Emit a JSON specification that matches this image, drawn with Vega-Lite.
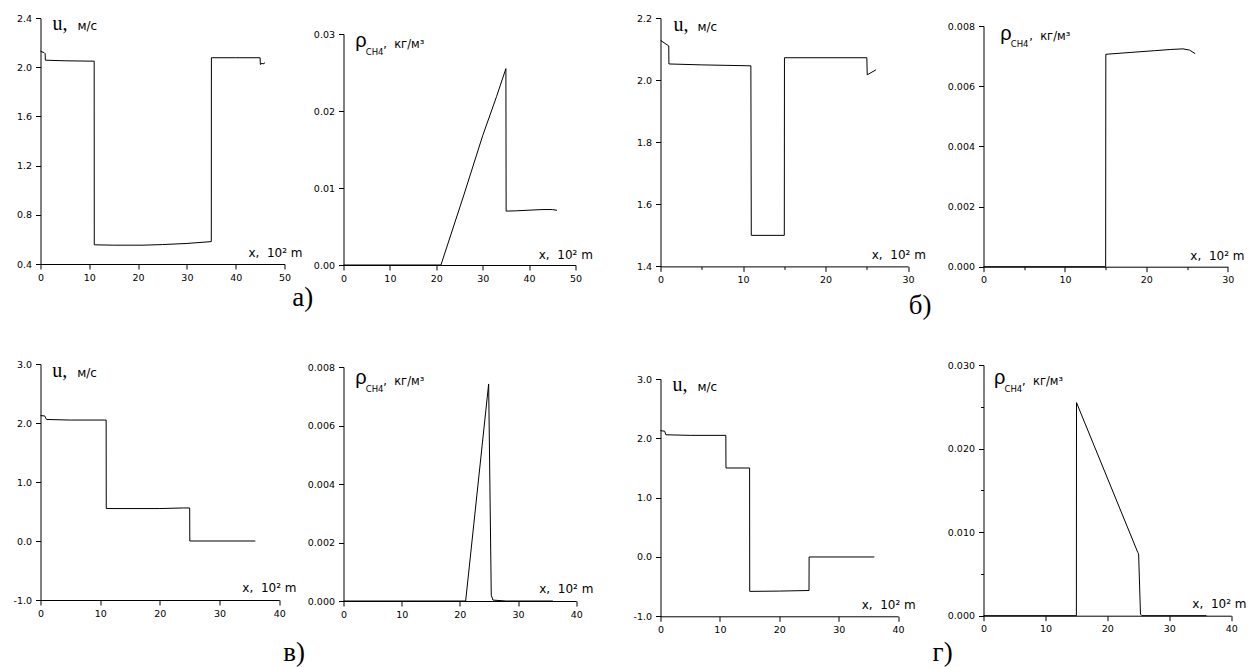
{
  "$schema": "https://vega.github.io/schema/vega-lite/v6.json",
  "background": "white",
  "padding": {"left": 12.5, "top": 10, "right": 0, "bottom": 0},
  "spacing": -20,
  "config": {
    "view": {"stroke": null},
    "axis": {"domainColor": "black", "tickColor": "black", "labelColor": "black", "labelFont": "DejaVu Sans", "labelFontSize": 9.5, "grid": false, "domainWidth": 1, "tickWidth": 1, "labelFlush": false, "labelOverlap": false},
    "axisX": {"labelPadding": 3},
    "axisY": {"labelPadding": 4},
    "text": {"color": "black", "font": "DejaVu Sans"}
  },
  "hconcat": [
    {
      "bounds": "flush", "spacing": 0,
      "vconcat": [
        {"width": 285.1, "height": 8, "data": {"values": []}, "mark": {"type": "point", "opacity": 0}, "encoding": {}},
        {
          "width": 244, "height": 246,
          "layer": [
            {
              "data": {"values": [
                {"x": 0, "y": 2.13}, {"x": 0.75, "y": 2.118}, {"x": 0.95, "y": 2.11}, {"x": 1.0, "y": 2.057},
                {"x": 5, "y": 2.052}, {"x": 11, "y": 2.049}, {"x": 11.02, "y": 0.556}, {"x": 15, "y": 0.553},
                {"x": 21, "y": 0.553}, {"x": 25, "y": 0.558}, {"x": 30, "y": 0.567}, {"x": 35, "y": 0.582},
                {"x": 35.02, "y": 2.077}, {"x": 40, "y": 2.077}, {"x": 45, "y": 2.077}, {"x": 45.05, "y": 2.022},
                {"x": 45.4, "y": 2.032}, {"x": 45.6, "y": 2.026}, {"x": 46, "y": 2.036}
              ]},
              "mark": {"type": "line", "color": "black", "strokeWidth": 1},
              "encoding": {
                "x": {"field": "x", "type": "quantitative", "scale": {"domain": [0, 50], "nice": false, "zero": false},
                  "axis": {"title": null, "values": [0, 5, 10, 15, 20, 25, 30, 35, 40, 45, 50],
                    "labelExpr": "datum.value % 10 === 0 ? format(datum.value, 'd') : ''",
                    "tickSize": {"condition": {"test": "datum.value % 10 === 0", "value": 5}, "value": 3}}},
                "y": {"field": "y", "type": "quantitative", "scale": {"domain": [0.4, 2.4], "nice": false, "zero": false},
                  "axis": {"title": null, "values": [0.4, 0.6, 0.8, 1.0, 1.2, 1.4, 1.6, 1.8, 2.0, 2.2, 2.4],
                    "labelExpr": "abs(datum.value/0.4 - round(datum.value/0.4)) < 1e-6 ? format(datum.value, '.1f') : ''",
                    "tickSize": {"condition": {"test": "abs(datum.value/0.4 - round(datum.value/0.4)) < 1e-6", "value": 5}, "value": 3}}},
                "order": {"value": null}
              }
            },
            {"data": {"values": [{"t": "u,"}]}, "mark": {"type": "text", "font": "Liberation Serif", "fontSize": 20, "align": "left", "baseline": "alphabetic"},
              "encoding": {"x": {"datum": 2.46, "type": "quantitative"}, "y": {"datum": 2.302, "type": "quantitative"}, "text": {"field": "t"}}},
            {"data": {"values": [{"t": "м/с"}]}, "mark": {"type": "text", "fontSize": 12, "align": "left", "baseline": "alphabetic", "dx": 25},
              "encoding": {"x": {"datum": 2.46, "type": "quantitative"}, "y": {"datum": 2.302, "type": "quantitative"}, "text": {"field": "t"}}},
            {"data": {"values": [{"t": "x,\u00a0\u00a010² m"}]}, "mark": {"type": "text", "fontSize": 12, "align": "right", "baseline": "alphabetic"},
              "encoding": {"x": {"datum": 53.7, "type": "quantitative"}, "y": {"datum": 0.459, "type": "quantitative"}, "text": {"field": "t"}}},
            {"data": {"values": [{"t": "а)"}]}, "mark": {"type": "text", "font": "Liberation Serif", "fontSize": 27, "align": "left", "baseline": "alphabetic"},
              "encoding": {"x": {"datum": 51.58, "type": "quantitative"}, "y": {"datum": 0.0585, "type": "quantitative"}, "text": {"field": "t"}}}
          ]
        },
        {"width": 1, "height": 99.3, "data": {"values": []}, "mark": {"type": "point", "opacity": 0}, "encoding": {}},
        {
          "width": 238.7, "height": 236,
          "layer": [
            {
              "data": {"values": [
                {"x": 0, "y": 2.125}, {"x": 0.7, "y": 2.12}, {"x": 0.8, "y": 2.1}, {"x": 1.0, "y": 2.06},
                {"x": 5, "y": 2.05}, {"x": 11, "y": 2.05}, {"x": 11.02, "y": 0.55}, {"x": 20, "y": 0.55},
                {"x": 24, "y": 0.56}, {"x": 25, "y": 0.56}, {"x": 25.02, "y": 0}, {"x": 36, "y": 0}
              ]},
              "mark": {"type": "line", "color": "black", "strokeWidth": 1},
              "encoding": {
                "x": {"field": "x", "type": "quantitative", "scale": {"domain": [0, 40], "nice": false, "zero": false},
                  "axis": {"title": null, "values": [0, 5, 10, 15, 20, 25, 30, 35, 40],
                    "labelExpr": "datum.value % 10 === 0 ? format(datum.value, 'd') : ''",
                    "tickSize": {"condition": {"test": "datum.value % 10 === 0", "value": 5}, "value": 3}}},
                "y": {"field": "y", "type": "quantitative", "scale": {"domain": [-1, 3], "nice": false, "zero": false},
                  "axis": {"title": null, "values": [-1, -0.5, 0, 0.5, 1, 1.5, 2, 2.5, 3],
                    "labelExpr": "abs(datum.value - round(datum.value)) < 1e-6 ? replace(format(datum.value, '.1f'), '−', '-') : ''",
                    "tickSize": {"condition": {"test": "abs(datum.value - round(datum.value)) < 1e-6", "value": 5}, "value": 3}}},
                "order": {"value": null}
              }
            },
            {"data": {"values": [{"t": "u,"}]}, "mark": {"type": "text", "font": "Liberation Serif", "fontSize": 20, "align": "left", "baseline": "alphabetic"},
              "encoding": {"x": {"datum": 1.96, "type": "quantitative"}, "y": {"datum": 2.773, "type": "quantitative"}, "text": {"field": "t"}}},
            {"data": {"values": [{"t": "м/с"}]}, "mark": {"type": "text", "fontSize": 12, "align": "left", "baseline": "alphabetic", "dx": 25},
              "encoding": {"x": {"datum": 1.96, "type": "quantitative"}, "y": {"datum": 2.773, "type": "quantitative"}, "text": {"field": "t"}}},
            {"data": {"values": [{"t": "x,\u00a0\u00a010² m"}]}, "mark": {"type": "text", "fontSize": 12, "align": "right", "baseline": "alphabetic"},
              "encoding": {"x": {"datum": 42.9, "type": "quantitative"}, "y": {"datum": -0.871, "type": "quantitative"}, "text": {"field": "t"}}},
            {"data": {"values": [{"t": "в)"}]}, "mark": {"type": "text", "font": "Liberation Serif", "fontSize": 27, "align": "left", "baseline": "alphabetic"},
              "encoding": {"x": {"datum": 40.67, "type": "quantitative"}, "y": {"datum": -2.029, "type": "quantitative"}, "text": {"field": "t"}}}
          ]
        }
      ]
    },
    {
      "bounds": "flush", "spacing": 0,
      "vconcat": [
        {"width": 308.9, "height": 23.3, "data": {"values": []}, "mark": {"type": "point", "opacity": 0}, "encoding": {}},
        {
          "width": 232, "height": 231,
          "layer": [
            {
              "data": {"values": [
                {"x": 0, "y": 0}, {"x": 21, "y": 0}, {"x": 26, "y": 0.0092}, {"x": 30, "y": 0.0168},
                {"x": 33, "y": 0.0219}, {"x": 35, "y": 0.0255}, {"x": 35.05, "y": 0.0070},
                {"x": 37, "y": 0.00703}, {"x": 40, "y": 0.00712}, {"x": 43, "y": 0.0072}, {"x": 45, "y": 0.0072}, {"x": 46, "y": 0.0071}
              ]},
              "mark": {"type": "line", "color": "black", "strokeWidth": 1},
              "encoding": {
                "x": {"field": "x", "type": "quantitative", "scale": {"domain": [0, 50], "nice": false, "zero": false},
                  "axis": {"title": null, "values": [0, 5, 10, 15, 20, 25, 30, 35, 40, 45, 50],
                    "labelExpr": "datum.value % 10 === 0 ? format(datum.value, 'd') : ''",
                    "tickSize": {"condition": {"test": "datum.value % 10 === 0", "value": 5}, "value": 3}}},
                "y": {"field": "y", "type": "quantitative", "scale": {"domain": [0, 0.03], "nice": false, "zero": false},
                  "axis": {"title": null, "values": [0, 0.005, 0.01, 0.015, 0.02, 0.025, 0.03],
                    "labelExpr": "abs(datum.value/0.01 - round(datum.value/0.01)) < 1e-6 ? format(datum.value, '.2f') : ''",
                    "tickSize": {"condition": {"test": "abs(datum.value/0.01 - round(datum.value/0.01)) < 1e-6", "value": 5}, "value": 3}}},
                "order": {"value": null}
              }
            },
            {"data": {"values": [{"t": "ρ"}]}, "mark": {"type": "text", "font": "Liberation Sans", "fontSize": 20, "align": "left", "baseline": "alphabetic"},
              "encoding": {"x": {"datum": 2.52, "type": "quantitative"}, "y": {"datum": 0.02826, "type": "quantitative"}, "text": {"field": "t"}}},
            {"data": {"values": [{"t": "CH4"}]}, "mark": {"type": "text", "fontSize": 8.5, "align": "left", "baseline": "alphabetic", "dx": 10.5, "dy": 8},
              "encoding": {"x": {"datum": 2.52, "type": "quantitative"}, "y": {"datum": 0.02826, "type": "quantitative"}, "text": {"field": "t"}}},
            {"data": {"values": [{"t": ",\u00a0\u00a0кг/м³"}]}, "mark": {"type": "text", "fontSize": 11.5, "align": "left", "baseline": "alphabetic", "dx": 28, "dy": 1},
              "encoding": {"x": {"datum": 2.52, "type": "quantitative"}, "y": {"datum": 0.02826, "type": "quantitative"}, "text": {"field": "t"}}},
            {"data": {"values": [{"t": "x,\u00a0\u00a010² m"}]}, "mark": {"type": "text", "fontSize": 12, "align": "right", "baseline": "alphabetic"},
              "encoding": {"x": {"datum": 53.75, "type": "quantitative"}, "y": {"datum": 0.00074, "type": "quantitative"}, "text": {"field": "t"}}}
          ]
        },
        {"width": 1, "height": 101.7, "data": {"values": []}, "mark": {"type": "point", "opacity": 0}, "encoding": {}},
        {
          "width": 232.7, "height": 234,
          "layer": [
            {
              "data": {"values": [
                {"x": 0, "y": 0}, {"x": 21, "y": 0}, {"x": 24.95, "y": 0.00742}, {"x": 25.4, "y": 0.0002},
                {"x": 25.7, "y": 0.00003}, {"x": 28, "y": 0}, {"x": 36, "y": 0}
              ]},
              "mark": {"type": "line", "color": "black", "strokeWidth": 1},
              "encoding": {
                "x": {"field": "x", "type": "quantitative", "scale": {"domain": [0, 40], "nice": false, "zero": false},
                  "axis": {"title": null, "values": [0, 5, 10, 15, 20, 25, 30, 35, 40],
                    "labelExpr": "datum.value % 10 === 0 ? format(datum.value, 'd') : ''",
                    "tickSize": {"condition": {"test": "datum.value % 10 === 0", "value": 5}, "value": 3}}},
                "y": {"field": "y", "type": "quantitative", "scale": {"domain": [0, 0.008], "nice": false, "zero": false},
                  "axis": {"title": null, "values": [0, 0.001, 0.002, 0.003, 0.004, 0.005, 0.006, 0.007, 0.008],
                    "labelExpr": "abs(datum.value/0.002 - round(datum.value/0.002)) < 1e-6 ? format(datum.value, '.3f') : ''",
                    "tickSize": {"condition": {"test": "abs(datum.value/0.002 - round(datum.value/0.002)) < 1e-6", "value": 5}, "value": 3}}},
                "order": {"value": null}
              }
            },
            {"data": {"values": [{"t": "ρ"}]}, "mark": {"type": "text", "font": "Liberation Sans", "fontSize": 20, "align": "left", "baseline": "alphabetic"},
              "encoding": {"x": {"datum": 2.01, "type": "quantitative"}, "y": {"datum": 0.00743, "type": "quantitative"}, "text": {"field": "t"}}},
            {"data": {"values": [{"t": "CH4"}]}, "mark": {"type": "text", "fontSize": 8.5, "align": "left", "baseline": "alphabetic", "dx": 10.5, "dy": 8},
              "encoding": {"x": {"datum": 2.01, "type": "quantitative"}, "y": {"datum": 0.00743, "type": "quantitative"}, "text": {"field": "t"}}},
            {"data": {"values": [{"t": ",\u00a0\u00a0кг/м³"}]}, "mark": {"type": "text", "fontSize": 11.5, "align": "left", "baseline": "alphabetic", "dx": 28, "dy": 1},
              "encoding": {"x": {"datum": 2.01, "type": "quantitative"}, "y": {"datum": 0.00743, "type": "quantitative"}, "text": {"field": "t"}}},
            {"data": {"values": [{"t": "x,\u00a0\u00a010² m"}]}, "mark": {"type": "text", "fontSize": 12, "align": "right", "baseline": "alphabetic"},
              "encoding": {"x": {"datum": 42.95, "type": "quantitative"}, "y": {"datum": 0.000284, "type": "quantitative"}, "text": {"field": "t"}}}
          ]
        }
      ]
    },
    {
      "bounds": "flush", "spacing": 0,
      "vconcat": [
        {"width": 305.1, "height": 7.3, "data": {"values": []}, "mark": {"type": "point", "opacity": 0}, "encoding": {}},
        {
          "width": 247.6, "height": 248.4,
          "layer": [
            {
              "data": {"values": [
                {"x": 0, "y": 2.128}, {"x": 1.0, "y": 2.11}, {"x": 1.02, "y": 2.052}, {"x": 5, "y": 2.049},
                {"x": 10.95, "y": 2.046}, {"x": 11, "y": 1.5}, {"x": 15, "y": 1.5}, {"x": 15.02, "y": 2.072},
                {"x": 25, "y": 2.072}, {"x": 25.05, "y": 2.017}, {"x": 26.1, "y": 2.033}
              ]},
              "mark": {"type": "line", "color": "black", "strokeWidth": 1},
              "encoding": {
                "x": {"field": "x", "type": "quantitative", "scale": {"domain": [0, 30], "nice": false, "zero": false},
                  "axis": {"title": null, "values": [0, 5, 10, 15, 20, 25, 30],
                    "labelExpr": "datum.value % 10 === 0 ? format(datum.value, 'd') : ''",
                    "tickSize": {"condition": {"test": "datum.value % 10 === 0", "value": 5}, "value": 3}}},
                "y": {"field": "y", "type": "quantitative", "scale": {"domain": [1.4, 2.2], "nice": false, "zero": false},
                  "axis": {"title": null, "values": [1.4, 1.5, 1.6, 1.7, 1.8, 1.9, 2.0, 2.1, 2.2],
                    "labelExpr": "abs(datum.value/0.2 - round(datum.value/0.2)) < 1e-6 ? format(datum.value, '.1f') : ''",
                    "tickSize": {"condition": {"test": "abs(datum.value/0.2 - round(datum.value/0.2)) < 1e-6", "value": 5}, "value": 3}}},
                "order": {"value": null}
              }
            },
            {"data": {"values": [{"t": "u,"}]}, "mark": {"type": "text", "font": "Liberation Serif", "fontSize": 20, "align": "left", "baseline": "alphabetic"},
              "encoding": {"x": {"datum": 1.575, "type": "quantitative"}, "y": {"datum": 2.159, "type": "quantitative"}, "text": {"field": "t"}}},
            {"data": {"values": [{"t": "м/с"}]}, "mark": {"type": "text", "fontSize": 12, "align": "left", "baseline": "alphabetic", "dx": 24},
              "encoding": {"x": {"datum": 1.575, "type": "quantitative"}, "y": {"datum": 2.159, "type": "quantitative"}, "text": {"field": "t"}}},
            {"data": {"values": [{"t": "x,\u00a0\u00a010² m"}]}, "mark": {"type": "text", "fontSize": 12, "align": "right", "baseline": "alphabetic"},
              "encoding": {"x": {"datum": 32.15, "type": "quantitative"}, "y": {"datum": 1.4238, "type": "quantitative"}, "text": {"field": "t"}}},
            {"data": {"values": [{"t": "б)"}]}, "mark": {"type": "text", "font": "Liberation Serif", "fontSize": 27, "align": "left", "baseline": "alphabetic"},
              "encoding": {"x": {"datum": 30.09, "type": "quantitative"}, "y": {"datum": 1.248, "type": "quantitative"}, "text": {"field": "t"}}}
          ]
        },
        {"width": 1, "height": 112, "data": {"values": []}, "mark": {"type": "point", "opacity": 0}, "encoding": {}},
        {
          "width": 237.6, "height": 237.3,
          "layer": [
            {
              "data": {"values": [
                {"x": 0, "y": 2.13}, {"x": 0.7, "y": 2.12}, {"x": 0.9, "y": 2.06}, {"x": 5, "y": 2.05},
                {"x": 11, "y": 2.05}, {"x": 11.02, "y": 1.5}, {"x": 15, "y": 1.5}, {"x": 15.02, "y": -0.58},
                {"x": 20, "y": -0.575}, {"x": 25, "y": -0.565}, {"x": 25.02, "y": 0}, {"x": 36, "y": 0}
              ]},
              "mark": {"type": "line", "color": "black", "strokeWidth": 1},
              "encoding": {
                "x": {"field": "x", "type": "quantitative", "scale": {"domain": [0, 40], "nice": false, "zero": false},
                  "axis": {"title": null, "values": [0, 5, 10, 15, 20, 25, 30, 35, 40],
                    "labelExpr": "datum.value % 10 === 0 ? format(datum.value, 'd') : ''",
                    "tickSize": {"condition": {"test": "datum.value % 10 === 0", "value": 5}, "value": 3}}},
                "y": {"field": "y", "type": "quantitative", "scale": {"domain": [-1, 3], "nice": false, "zero": false},
                  "axis": {"title": null, "values": [-1, -0.5, 0, 0.5, 1, 1.5, 2, 2.5, 3],
                    "labelExpr": "abs(datum.value - round(datum.value)) < 1e-6 ? replace(format(datum.value, '.1f'), '−', '-') : ''",
                    "tickSize": {"condition": {"test": "abs(datum.value - round(datum.value)) < 1e-6", "value": 5}, "value": 3}}},
                "order": {"value": null}
              }
            },
            {"data": {"values": [{"t": "u,"}]}, "mark": {"type": "text", "font": "Liberation Serif", "fontSize": 20, "align": "left", "baseline": "alphabetic"},
              "encoding": {"x": {"datum": 2.02, "type": "quantitative"}, "y": {"datum": 2.793, "type": "quantitative"}, "text": {"field": "t"}}},
            {"data": {"values": [{"t": "м/с"}]}, "mark": {"type": "text", "fontSize": 12, "align": "left", "baseline": "alphabetic", "dx": 25},
              "encoding": {"x": {"datum": 2.02, "type": "quantitative"}, "y": {"datum": 2.793, "type": "quantitative"}, "text": {"field": "t"}}},
            {"data": {"values": [{"t": "x,\u00a0\u00a010² m"}]}, "mark": {"type": "text", "fontSize": 12, "align": "right", "baseline": "alphabetic"},
              "encoding": {"x": {"datum": 42.98, "type": "quantitative"}, "y": {"datum": -0.877, "type": "quantitative"}, "text": {"field": "t"}}},
            {"data": {"values": [{"t": "г)"}]}, "mark": {"type": "text", "font": "Liberation Serif", "fontSize": 27, "align": "left", "baseline": "alphabetic"},
              "encoding": {"x": {"datum": 45.8, "type": "quantitative"}, "y": {"datum": -1.759, "type": "quantitative"}, "text": {"field": "t"}}}
          ]
        }
      ]
    },
    {
      "bounds": "flush", "spacing": 0,
      "vconcat": [
        {"width": 1, "height": 15.3, "data": {"values": []}, "mark": {"type": "point", "opacity": 0}, "encoding": {}},
        {
          "width": 244.3, "height": 240.7,
          "layer": [
            {
              "data": {"values": [
                {"x": 0, "y": 0}, {"x": 15, "y": 0}, {"x": 15.02, "y": 0.00706}, {"x": 18, "y": 0.00712},
                {"x": 21, "y": 0.00718}, {"x": 23, "y": 0.00722}, {"x": 24.5, "y": 0.00724}, {"x": 25.3, "y": 0.0072}, {"x": 26, "y": 0.00708}
              ]},
              "mark": {"type": "line", "color": "black", "strokeWidth": 1},
              "encoding": {
                "x": {"field": "x", "type": "quantitative", "scale": {"domain": [0, 30], "nice": false, "zero": false},
                  "axis": {"title": null, "values": [0, 5, 10, 15, 20, 25, 30],
                    "labelExpr": "datum.value % 10 === 0 ? format(datum.value, 'd') : ''",
                    "tickSize": {"condition": {"test": "datum.value % 10 === 0", "value": 5}, "value": 3}}},
                "y": {"field": "y", "type": "quantitative", "scale": {"domain": [0, 0.008], "nice": false, "zero": false},
                  "axis": {"title": null, "values": [0, 0.001, 0.002, 0.003, 0.004, 0.005, 0.006, 0.007, 0.008],
                    "labelExpr": "abs(datum.value/0.002 - round(datum.value/0.002)) < 1e-6 ? format(datum.value, '.3f') : ''",
                    "tickSize": {"condition": {"test": "abs(datum.value/0.002 - round(datum.value/0.002)) < 1e-6", "value": 5}, "value": 3}}},
                "order": {"value": null}
              }
            },
            {"data": {"values": [{"t": "ρ"}]}, "mark": {"type": "text", "font": "Liberation Sans", "fontSize": 20, "align": "left", "baseline": "alphabetic"},
              "encoding": {"x": {"datum": 2.05, "type": "quantitative"}, "y": {"datum": 0.007535, "type": "quantitative"}, "text": {"field": "t"}}},
            {"data": {"values": [{"t": "CH4"}]}, "mark": {"type": "text", "fontSize": 8.5, "align": "left", "baseline": "alphabetic", "dx": 10.5, "dy": 7.5},
              "encoding": {"x": {"datum": 2.05, "type": "quantitative"}, "y": {"datum": 0.007535, "type": "quantitative"}, "text": {"field": "t"}}},
            {"data": {"values": [{"t": ",\u00a0\u00a0кг/м³"}]}, "mark": {"type": "text", "fontSize": 11.5, "align": "left", "baseline": "alphabetic", "dx": 29, "dy": 0},
              "encoding": {"x": {"datum": 2.05, "type": "quantitative"}, "y": {"datum": 0.007535, "type": "quantitative"}, "text": {"field": "t"}}},
            {"data": {"values": [{"t": "x,\u00a0\u00a010² m"}]}, "mark": {"type": "text", "fontSize": 12, "align": "right", "baseline": "alphabetic"},
              "encoding": {"x": {"datum": 32.05, "type": "quantitative"}, "y": {"datum": 0.000223, "type": "quantitative"}, "text": {"field": "t"}}}
          ]
        },
        {"width": 1, "height": 97.3, "data": {"values": []}, "mark": {"type": "point", "opacity": 0}, "encoding": {}},
        {
          "width": 247.7, "height": 250.7,
          "layer": [
            {
              "data": {"values": [
                {"x": 0, "y": 0}, {"x": 15, "y": 0}, {"x": 15.02, "y": 0.0255}, {"x": 24.9, "y": 0.0076},
                {"x": 25.05, "y": 0.0074}, {"x": 25.35, "y": 0.0002}, {"x": 25.6, "y": 0}, {"x": 36, "y": 0}
              ]},
              "mark": {"type": "line", "color": "black", "strokeWidth": 1},
              "encoding": {
                "x": {"field": "x", "type": "quantitative", "scale": {"domain": [0, 40], "nice": false, "zero": false},
                  "axis": {"title": null, "values": [0, 5, 10, 15, 20, 25, 30, 35, 40],
                    "labelExpr": "datum.value % 10 === 0 ? format(datum.value, 'd') : ''",
                    "tickSize": {"condition": {"test": "datum.value % 10 === 0", "value": 5}, "value": 3}}},
                "y": {"field": "y", "type": "quantitative", "scale": {"domain": [0, 0.03], "nice": false, "zero": false},
                  "axis": {"title": null, "values": [0, 0.005, 0.01, 0.015, 0.02, 0.025, 0.03],
                    "labelExpr": "abs(datum.value/0.01 - round(datum.value/0.01)) < 1e-6 ? format(datum.value, '.3f') : ''",
                    "tickSize": {"condition": {"test": "abs(datum.value/0.01 - round(datum.value/0.01)) < 1e-6", "value": 5}, "value": 3}}},
                "order": {"value": null}
              }
            },
            {"data": {"values": [{"t": "ρ"}]}, "mark": {"type": "text", "font": "Liberation Sans", "fontSize": 20, "align": "left", "baseline": "alphabetic"},
              "encoding": {"x": {"datum": 1.7, "type": "quantitative"}, "y": {"datum": 0.02768, "type": "quantitative"}, "text": {"field": "t"}}},
            {"data": {"values": [{"t": "CH4"}]}, "mark": {"type": "text", "fontSize": 8.5, "align": "left", "baseline": "alphabetic", "dx": 10.5, "dy": 8},
              "encoding": {"x": {"datum": 1.7, "type": "quantitative"}, "y": {"datum": 0.02768, "type": "quantitative"}, "text": {"field": "t"}}},
            {"data": {"values": [{"t": ",\u00a0\u00a0кг/м³"}]}, "mark": {"type": "text", "fontSize": 11.5, "align": "left", "baseline": "alphabetic", "dx": 28, "dy": 1},
              "encoding": {"x": {"datum": 1.7, "type": "quantitative"}, "y": {"datum": 0.02768, "type": "quantitative"}, "text": {"field": "t"}}},
            {"data": {"values": [{"t": "x,\u00a0\u00a010² m"}]}, "mark": {"type": "text", "fontSize": 12, "align": "right", "baseline": "alphabetic"},
              "encoding": {"x": {"datum": 42.47, "type": "quantitative"}, "y": {"datum": 0.00087, "type": "quantitative"}, "text": {"field": "t"}}}
          ]
        }
      ]
    }
  ]
}
